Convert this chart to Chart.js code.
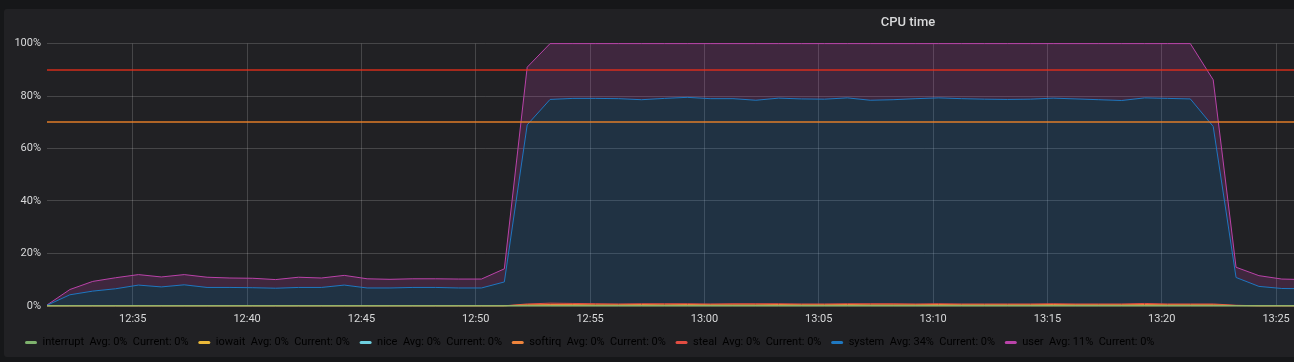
<!DOCTYPE html>
<html>
<head>
<meta charset="utf-8">
<script src="https://cdn.jsdelivr.net/npm/chart.js@4.4.1/dist/chart.umd.min.js"></script>
<style>
  html, body { margin: 0; padding: 0; background: #161719; overflow: hidden; width: 1294px; height: 362px; }
  #panel { position: absolute; left: 4px; top: 9px; width: 1808px; height: 348px; background: #212124; border-radius: 3px; }
</style>
</head>
<body>
<div id="panel"><canvas id="cpu"></canvas></div>
<script>
// sample times, one per minute
const times = [
  '12:31:15','12:32:15','12:33:15','12:34:15','12:35:15','12:36:15','12:37:15','12:38:15','12:39:15','12:40:15',
  '12:41:15','12:42:15','12:43:15','12:44:15','12:45:15','12:46:15','12:47:15','12:48:15','12:49:15','12:50:15',
  '12:51:15','12:52:15','12:53:15','12:54:15','12:55:15','12:56:15','12:57:15','12:58:15','12:59:15','13:00:15',
  '13:01:15','13:02:15','13:03:15','13:04:15','13:05:15','13:06:15','13:07:15','13:08:15','13:09:15','13:10:15',
  '13:11:15','13:12:15','13:13:15','13:14:15','13:15:15','13:16:15','13:17:15','13:18:15','13:19:15','13:20:15',
  '13:21:15','13:22:15','13:23:15','13:24:15','13:25:15','13:26:15'
];
const rangeStart = '12:31:15';
const rangeEnd = '13:48:00';
const tickTimes = ['12:35','12:40','12:45','12:50','12:55','13:00','13:05','13:10','13:15','13:20','13:25','13:30','13:35','13:40','13:45'];
const yTicks = [0, 20, 40, 60, 80, 100];

const seriesNames = ['interrupt', 'iowait', 'nice', 'softirq', 'steal', 'system', 'user'];
const seriesColors = ['#7EB26D', '#EAB839', '#6ED0E0', '#EF843C', '#E24D42', '#1F78C1', '#BA43A9'];
const avgValues = [0, 0, 0, 0, 0, 34, 11];
const currentValues = [0, 0, 0, 0, 0, 0, 0];

const thresholds = [70, 90];
const thresholdColors = ['rgba(237,129,40,0.7)', 'rgba(237,46,24,0.65)'];

const interrupt = [
  0,0,0,0,0,0,0,0,0,0, 0,0,0,0,0,0,0,0,0,0, 0,0,0,0,0,0,0,0,0,0,
  0,0,0,0,0,0,0,0,0,0, 0,0,0,0,0,0,0,0,0,0, 0,0,0,0,0,0
];
const iowait = [
  0,0,0,0,0,0,0,0,0,0, 0,0,0,0,0,0,0,0,0,0, 0,0,0,0,0,0,0,0,0,0,
  0,0,0,0,0,0,0,0,0,0, 0,0,0,0,0,0,0,0,0,0, 0,0,0,0,0,0
];
const nice = [
  0,0,0,0,0,0,0,0,0,0, 0,0,0,0,0,0,0,0,0,0, 0,0,0,0,0,0,0,0,0,0,
  0,0,0,0,0,0,0,0,0,0, 0,0,0,0,0,0,0,0,0,0, 0,0,0,0,0,0
];
const softirq = [
  0,0,0,0,0,0,0,0,0,0, 0,0,0,0,0,0,0,0,0,0,
  0,0.4,0.5,0.5,0.4,0.4,0.5,0.4,0.5,0.4,
  0.4,0.4,0.5,0.4,0.4,0.5,0.4,0.4,0.4,0.5,
  0.4,0.4,0.4,0.4,0.5,0.4,0.4,0.4,0.5,0.4,
  0.4,0.4,0.1,0,0,0
];
const steal = [
  0,0,0,0,0,0,0,0,0,0, 0,0,0,0,0,0,0,0,0,0,
  0,0.3,0.5,0.4,0.4,0.3,0.3,0.4,0.3,0.3,
  0.4,0.4,0.3,0.3,0.3,0.3,0.4,0.4,0.3,0.3,
  0.3,0.3,0.3,0.3,0.3,0.3,0.3,0.3,0.4,0.3,
  0.3,0.3,0.1,0,0,0
];
const system = [
  0.2,4.2,5.6,6.5,7.9,7.2,8.0,7.0,7.0,6.9,
  6.7,7.0,7.0,7.9,6.8,6.8,7.0,7.0,6.8,6.8,
  9.1,68.3,77.7,78.2,78.3,78.3,77.8,78.3,78.7,78.3,
  78.2,77.6,78.4,78.2,78.1,78.5,77.6,77.8,78.3,78.5,
  78.3,78.1,78.0,78.1,78.4,78.2,77.9,77.6,78.4,78.4,
  78.2,67.7,10.6,7.4,6.6,6.5
];
const user = [
  0.1,2.0,3.7,4.2,4.0,3.8,3.9,3.9,3.6,3.6,
  3.3,3.9,3.6,3.7,3.5,3.3,3.3,3.3,3.4,3.4,
  5.0,22.0,21.3,20.9,20.9,21.0,21.4,20.9,20.5,21.0,
  21.0,21.6,20.8,21.1,21.2,20.7,21.6,21.4,21.0,20.7,
  21.0,21.2,21.3,21.2,20.8,21.1,21.4,21.7,20.7,20.9,
  21.1,17.8,3.9,4.1,3.6,3.5
];

const seriesValues = [interrupt, iowait, nice, softirq, steal, system, user];

function toMinutes(t) {
  var p = t.split(':');
  return (parseInt(p[0], 10) - 12) * 60 + parseInt(p[1], 10) + (p[2] ? parseInt(p[2], 10) / 60 : 0);
}

function fmtTime(m) {
  var h = 12 + Math.floor(m / 60);
  var mm = Math.round(m % 60);
  return h + ':' + (mm < 10 ? '0' + mm : mm);
}

function hexA(hex, a) {
  var r = parseInt(hex.substr(1, 2), 16), g = parseInt(hex.substr(3, 2), 16), b = parseInt(hex.substr(5, 2), 16);
  return 'rgba(' + r + ',' + g + ',' + b + ',' + a + ')';
}

const thresholdLines = {
  id: 'thresholdLines',
  afterDatasetsDraw(chart) {
    const c = chart.ctx, area = chart.chartArea, ys = chart.scales.y;
    c.save();
    c.lineWidth = 2;
    thresholds.forEach((v, i) => {
      const py = Math.round(ys.getPixelForValue(v));
      c.strokeStyle = thresholdColors[i];
      c.beginPath();
      c.moveTo(area.left, py);
      c.lineTo(area.right, py);
      c.stroke();
    });
    c.restore();
  }
};

// legend sits a bit right of the y axis box and a bit closer to the x labels
const legendNudge = {
  id: 'legendNudge',
  afterLayout(chart) {
    chart.legend.left += 4;
    chart.legend.right += 4;
    chart.legend.top -= 3;
    chart.legend.bottom -= 3;
  }
};

Chart.defaults.font.family = 'Roboto';
Chart.defaults.font.size = 11;
Chart.defaults.color = '#d8d9da';

var datasets = seriesNames.map((name, i) => ({
  label: name,
  data: times.map((t, k) => ({ x: toMinutes(t), y: seriesValues[i][k] })),
  borderColor: seriesColors[i],
  backgroundColor: hexA(seriesColors[i], 0.2),
  borderWidth: 1,
  pointRadius: 0,
  tension: 0,
  clip: { left: 0, top: 2, right: 0, bottom: 1 },
  fill: i === 0 ? 'origin' : '-1'
}));

new Chart(document.getElementById('cpu'), {
  type: 'line',
  data: { datasets: datasets },
  options: {
    responsive: true,
    maintainAspectRatio: false,
    animation: false,
    layout: { padding: { left: 10, right: 10, top: 0, bottom: -4 } },
    plugins: {
      title: {
        display: true,
        text: 'CPU time',
        color: '#d8d9da',
        font: { size: 13, weight: '500' },
        padding: { top: 6, bottom: 13 }
      },
      legend: {
        position: 'bottom',
        align: 'start',
        labels: {
          boxWidth: 12,
          boxHeight: 3,
          useBorderRadius: true,
          borderRadius: 1.5,
          padding: 7,
          color: '#d8d9da',
          font: { size: 11 },
          generateLabels: (chart) => seriesNames.map((name, i) => ({
            text: name + '  Avg: ' + avgValues[i] + '%  Current: ' + currentValues[i] + '% ',
            fillStyle: seriesColors[i],
            strokeStyle: seriesColors[i],
            lineWidth: 0,
            borderRadius: 1.5,
            hidden: false,
            datasetIndex: i
          }))
        }
      },
      tooltip: { enabled: false }
    },
    scales: {
      x: {
        type: 'linear',
        min: toMinutes(rangeStart),
        max: toMinutes(rangeEnd),
        afterBuildTicks: (s) => { s.ticks = tickTimes.map(t => ({ value: toMinutes(t) })); },
        grid: { color: 'rgba(255,255,255,0.17)', drawTicks: false },
        border: { display: false },
        ticks: { padding: 7, maxRotation: 0, autoSkip: false, callback: (v) => fmtTime(v) }
      },
      y: {
        stacked: true,
        min: 0,
        max: 100,
        afterBuildTicks: (s) => { s.ticks = yTicks.map(v => ({ value: v })); },
        afterFit: (s) => { s.width = 33; },
        grid: { color: 'rgba(255,255,255,0.17)', drawTicks: false },
        border: { display: false },
        ticks: { padding: 6, callback: (v) => v + '%' }
      }
    }
  },
  plugins: [thresholdLines, legendNudge]
});
</script>
</body>
</html>
